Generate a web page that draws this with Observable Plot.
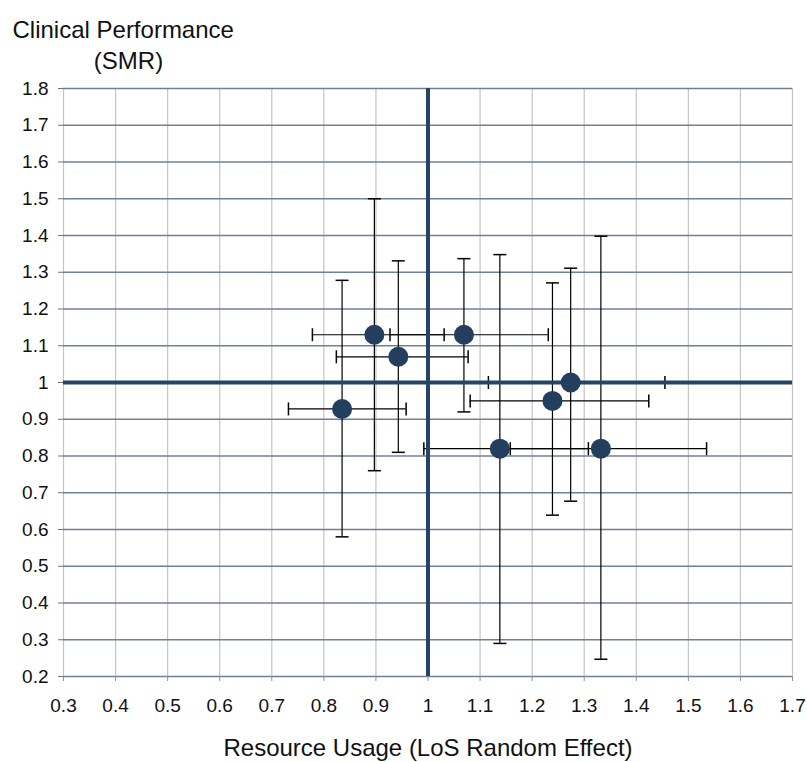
<!DOCTYPE html>
<html>
<head>
<meta charset="utf-8">
<script src="https://cdn.jsdelivr.net/npm/d3@7"></script>
<script src="https://cdn.jsdelivr.net/npm/@observablehq/plot@0.6"></script>
<style>
  html, body { margin: 0; padding: 0; background: #fff; }
  #chart svg { display: block; }
</style>
</head>
<body>
<div id="chart"></div>
<script>
// Length-of-stay random effect (x) against standardised mortality ratio (y), with 95% intervals
const losEffect = [0.897, 1.069, 0.943, 0.835, 1.274, 1.239, 1.138, 1.332];
const losLow    = [0.778, 0.927, 0.824, 0.732, 1.116, 1.081, 0.992, 1.158];
const losHigh   = [1.031, 1.231, 1.077, 0.958, 1.455, 1.424, 1.308, 1.535];
const smr       = [1.13, 1.13, 1.07, 0.928, 1.0, 0.95, 0.82, 0.82];
const smrLow    = [0.76, 0.92, 0.81, 0.58, 0.677, 0.639, 0.29, 0.247];
const smrHigh   = [1.50, 1.337, 1.331, 1.278, 1.311, 1.271, 1.348, 1.398];

const xTicks = [0.3, 0.4, 0.5, 0.6, 0.7, 0.8, 0.9, 1, 1.1, 1.2, 1.3, 1.4, 1.5, 1.6, 1.7];
const yTicks = [0.2, 0.3, 0.4, 0.5, 0.6, 0.7, 0.8, 0.9, 1, 1.1, 1.2, 1.3, 1.4, 1.5, 1.6, 1.7, 1.8];
const reference = [1];

const rows = losEffect.map((x, i) => ({
  x, y: smr[i],
  xlo: losLow[i], xhi: losHigh[i],
  ylo: smrLow[i], yhi: smrHigh[i]
}));

// Whisker caps drawn as short line symbols
const capH = { draw(ctx, size) { const h = Math.sqrt(size / Math.PI); ctx.moveTo(-h, 0); ctx.lineTo(h, 0); } };
const capV = { draw(ctx, size) { const h = Math.sqrt(size / Math.PI); ctx.moveTo(0, -h); ctx.lineTo(0, h); } };

const navy = "#264566";
const fmt = d => String(d);

const chart = Plot.plot({
  width: 807,
  height: 762,
  marginLeft: 63,
  marginRight: 15,
  marginTop: 88,
  marginBottom: 86,
  style: { fontFamily: "'Liberation Sans', Arial, sans-serif", color: "#111", background: "#fff" },
  x: { domain: [0.3, 1.7] },
  y: { domain: [0.2, 1.8] },
  marks: [
    Plot.ruleX(xTicks, { stroke: "#c4c4c4", strokeWidth: 1.2 }),
    Plot.ruleY(yTicks, { stroke: "#6f8197", strokeWidth: 1.5 }),
    Plot.axisY(yTicks, { tickSize: 5, tickPadding: 10, fontSize: 19, stroke: "#707070", strokeOpacity: 1, tickFormat: fmt, label: null }),
    Plot.axisX(xTicks, { tickSize: 5, tickPadding: 17, fontSize: 19, stroke: "#909090", strokeOpacity: 1, tickFormat: fmt, label: null }),
    Plot.ruleX(rows, { x: "x", y1: "ylo", y2: "yhi", stroke: "#000", strokeWidth: 1.2 }),
    Plot.ruleY(rows, { y: "y", x1: "xlo", x2: "xhi", stroke: "#000", strokeWidth: 1.2 }),
    Plot.dot(rows, { x: "x", y: "yhi", symbol: capH, r: 6.5, stroke: "#000", strokeWidth: 1.5, fill: "none" }),
    Plot.dot(rows, { x: "x", y: "ylo", symbol: capH, r: 6.5, stroke: "#000", strokeWidth: 1.5, fill: "none" }),
    Plot.dot(rows, { x: "xlo", y: "y", symbol: capV, r: 6.5, stroke: "#000", strokeWidth: 1.5, fill: "none" }),
    Plot.dot(rows, { x: "xhi", y: "y", symbol: capV, r: 6.5, stroke: "#000", strokeWidth: 1.5, fill: "none" }),
    Plot.ruleX(reference, { stroke: navy, strokeWidth: 4 }),
    Plot.ruleY(reference, { stroke: navy, strokeWidth: 4 }),
    Plot.dot(rows, { x: "x", y: "y", r: 10, fill: "#243f5e", stroke: "none" }),
    // Axis titles
    Plot.text(["Clinical Performance"], { frameAnchor: "top-left", textAnchor: "start", lineAnchor: "bottom", dx: -51, dy: -51, fontSize: 24, fill: "#111" }),
    Plot.text(["(SMR)"], { frameAnchor: "top-left", textAnchor: "middle", lineAnchor: "bottom", dx: 65, dy: -20, fontSize: 24, fill: "#111" }),
    Plot.text(["Resource Usage (LoS Random Effect)"], { frameAnchor: "bottom", lineAnchor: "bottom", dy: 79, fontSize: 24, fill: "#111" })
  ]
});

document.getElementById("chart").appendChild(chart);
</script>
</body>
</html>
